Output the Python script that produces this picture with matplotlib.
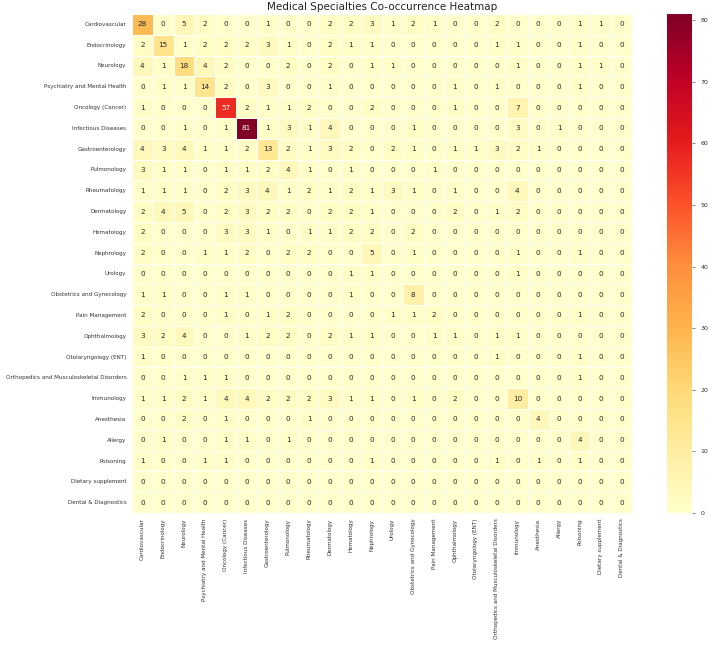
import numpy as np
import matplotlib
matplotlib.use("Agg")
import matplotlib.pyplot as plt
import seaborn as sns

# specialties (same order on both axes)
specialties = [
    "Cardiovascular", "Endocrinology", "Neurology", "Psychiatry and Mental Health",
    "Oncology (Cancer)", "Infectious Diseases", "Gastroenterology", "Pulmonology",
    "Rheumatology", "Dermatology", "Hematology", "Nephrology", "Urology",
    "Obstetrics and Gynecology", "Pain Management", "Ophthalmology",
    "Otolaryngology (ENT)", "Orthopedics and Musculoskeletal Disorders",
    "Immunology", "Anesthesia", "Allergy", "Poisoning", "Dietary supplement",
    "Dental & Diagnostics",
]

# co-occurrence counts, one row per specialty
cardiovascular = [28, 0, 5, 2, 0, 0, 1, 0, 0, 2, 2, 3, 1, 2, 1, 0, 0, 2, 0, 0, 0, 1, 1, 0]
endocrinology  = [2, 15, 1, 2, 2, 2, 3, 1, 0, 2, 1, 1, 0, 0, 0, 0, 0, 1, 1, 0, 0, 1, 0, 0]
neurology      = [4, 1, 18, 4, 2, 0, 0, 2, 0, 2, 0, 1, 1, 0, 0, 0, 0, 0, 1, 0, 0, 1, 1, 0]
psychiatry     = [0, 1, 1, 14, 2, 0, 3, 0, 0, 1, 0, 0, 0, 0, 0, 1, 0, 1, 0, 0, 0, 1, 0, 0]
oncology       = [1, 0, 0, 0, 57, 2, 1, 1, 2, 0, 0, 2, 0, 0, 0, 1, 0, 0, 7, 0, 0, 0, 0, 0]
infectious     = [0, 0, 1, 0, 1, 81, 1, 3, 1, 4, 0, 0, 0, 1, 0, 0, 0, 0, 3, 0, 1, 0, 0, 0]
gastro         = [4, 3, 4, 1, 1, 2, 13, 2, 1, 3, 2, 0, 2, 1, 0, 1, 1, 3, 2, 1, 0, 0, 0, 0]
pulmonology    = [3, 1, 1, 0, 1, 1, 2, 4, 1, 0, 1, 0, 0, 0, 1, 0, 0, 0, 0, 0, 0, 0, 0, 0]
rheumatology   = [1, 1, 1, 0, 2, 3, 4, 1, 2, 1, 2, 1, 3, 1, 0, 1, 0, 0, 4, 0, 0, 0, 0, 0]
dermatology    = [2, 4, 5, 0, 2, 3, 2, 2, 0, 2, 2, 1, 0, 0, 0, 2, 0, 1, 2, 0, 0, 0, 0, 0]
hematology     = [2, 0, 0, 0, 3, 3, 1, 0, 1, 1, 2, 2, 0, 2, 0, 0, 0, 0, 0, 0, 0, 0, 0, 0]
nephrology     = [2, 0, 0, 1, 1, 2, 0, 2, 2, 0, 0, 5, 0, 1, 0, 0, 0, 0, 1, 0, 0, 1, 0, 0]
urology        = [0, 0, 0, 0, 0, 0, 0, 0, 0, 0, 1, 1, 0, 0, 0, 0, 0, 0, 1, 0, 0, 0, 0, 0]
obstetrics     = [1, 1, 0, 0, 1, 1, 0, 0, 0, 0, 1, 0, 0, 8, 0, 0, 0, 0, 0, 0, 0, 0, 0, 0]
pain_mgmt      = [2, 0, 0, 0, 1, 0, 1, 2, 0, 0, 0, 0, 1, 1, 2, 0, 0, 0, 0, 0, 0, 1, 0, 0]
ophthalmology  = [3, 2, 4, 0, 0, 1, 2, 2, 0, 2, 1, 1, 0, 0, 1, 1, 0, 1, 1, 0, 0, 0, 0, 0]
ent            = [1, 0, 0, 0, 0, 0, 0, 0, 0, 0, 0, 0, 0, 0, 0, 0, 0, 1, 0, 0, 0, 1, 0, 0]
orthopedics    = [0, 0, 1, 1, 1, 0, 0, 0, 0, 0, 0, 0, 0, 0, 0, 0, 0, 0, 0, 0, 0, 1, 0, 0]
immunology     = [1, 1, 2, 1, 4, 4, 2, 2, 2, 3, 1, 1, 0, 1, 0, 2, 0, 0, 10, 0, 0, 0, 0, 0]
anesthesia     = [0, 0, 2, 0, 1, 0, 0, 0, 1, 0, 0, 0, 0, 0, 0, 0, 0, 0, 0, 4, 0, 0, 0, 0]
allergy        = [0, 1, 0, 0, 1, 1, 0, 1, 0, 0, 0, 0, 0, 0, 0, 0, 0, 0, 0, 0, 0, 4, 0, 0]
poisoning      = [1, 0, 0, 1, 1, 0, 0, 0, 0, 0, 0, 1, 0, 0, 0, 0, 0, 1, 0, 1, 0, 1, 0, 0]
dietary        = [0] * 24
dental         = [0] * 24

matrix = np.array([
    cardiovascular, endocrinology, neurology, psychiatry, oncology, infectious,
    gastro, pulmonology, rheumatology, dermatology, hematology, nephrology,
    urology, obstetrics, pain_mgmt, ophthalmology, ent, orthopedics,
    immunology, anesthesia, allergy, poisoning, dietary, dental,
])

fig = plt.figure(figsize=(7.08, 6.46), dpi=100)
ax = fig.add_axes([0.1864, 0.2059, 0.7062, 0.7724])
cax = fig.add_axes([0.942, 0.2059, 0.0353, 0.7724])

sns.heatmap(matrix, annot=True, fmt="d", cmap="YlOrRd", vmin=0,
            linewidths=0.5, linecolor="white",
            xticklabels=specialties, yticklabels=specialties,
            annot_kws={"fontsize": 5.2}, ax=ax, cbar_ax=cax)

ax.tick_params(axis="both", length=0, labelsize=4.1, labelcolor="#333333", pad=4)
ax.set_xticklabels(specialties, rotation=90)
ax.set_yticklabels(specialties, rotation=0)
ax.set_title("Medical Specialties Co-occurrence Heatmap", fontsize=7.5, color="#222222", pad=3)

cax.tick_params(labelsize=4.5, labelcolor="#333333", length=2.5, width=0.5, color="#555555")

fig.savefig("out.png", dpi=100)
